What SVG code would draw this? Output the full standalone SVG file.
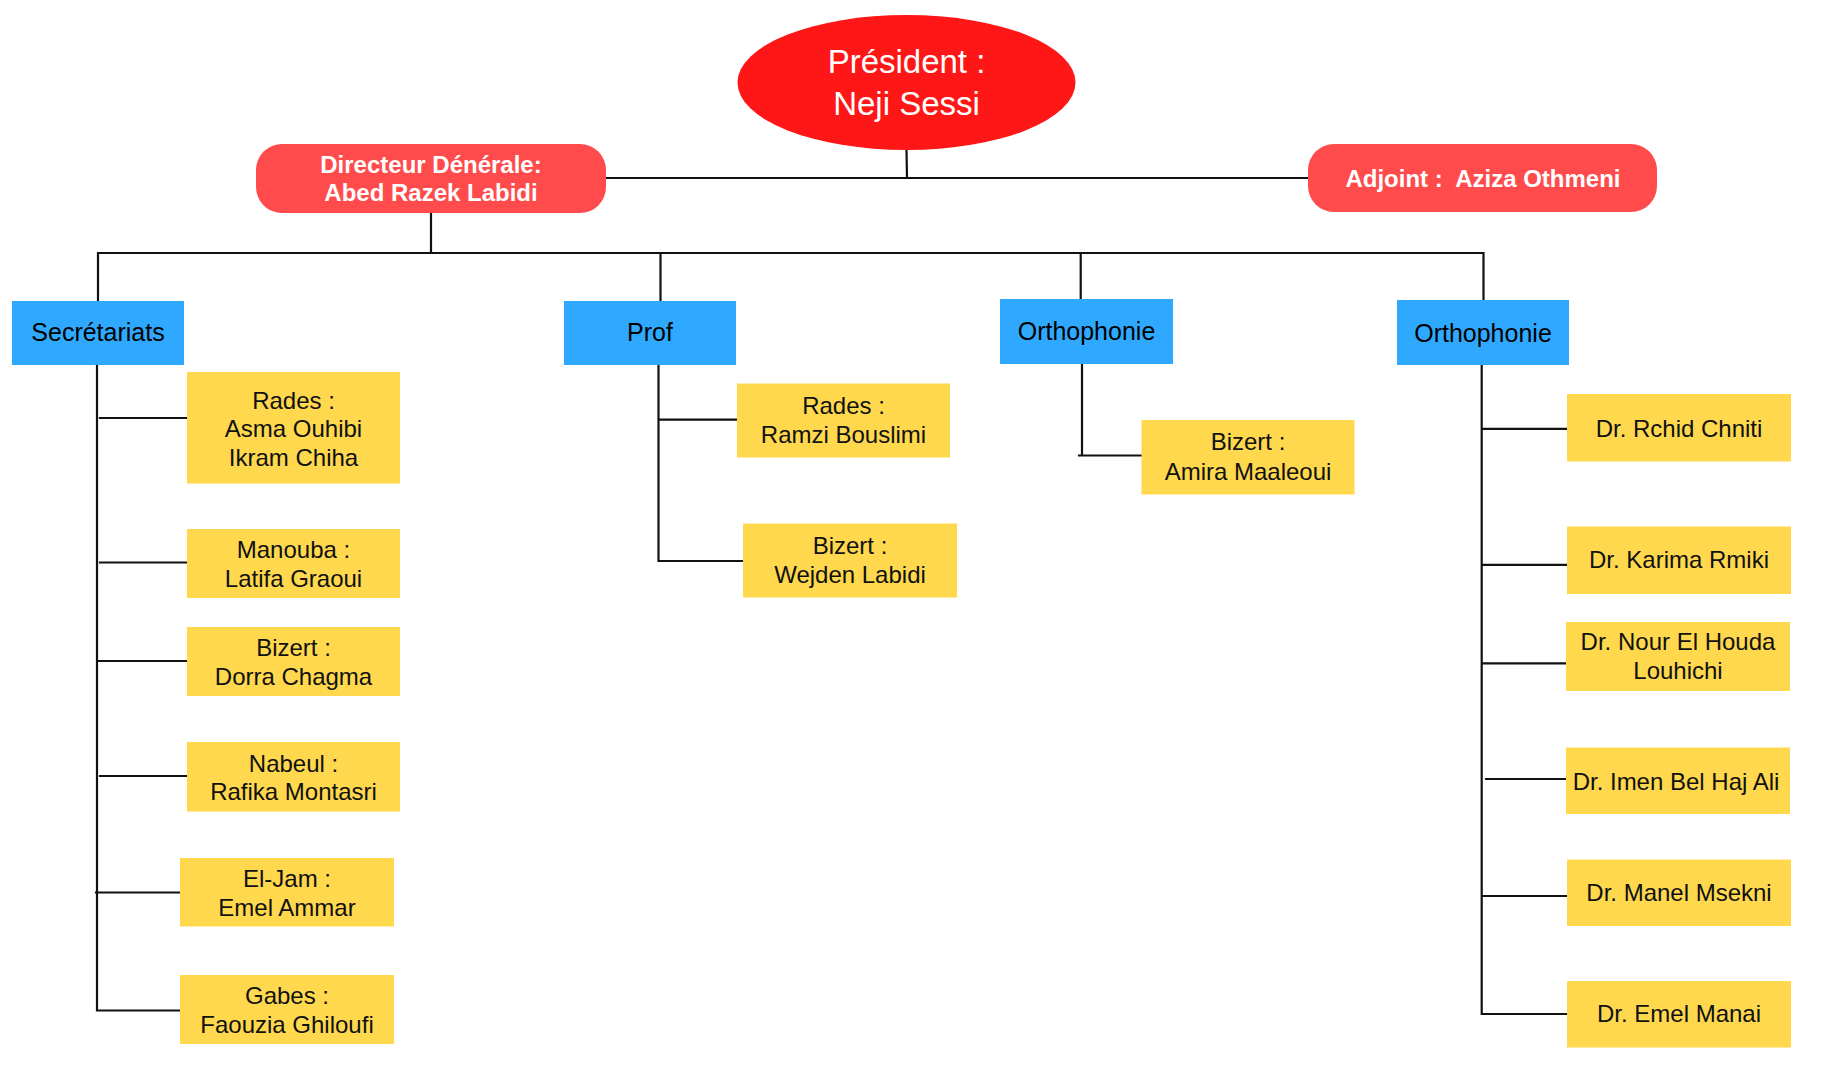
<svg xmlns="http://www.w3.org/2000/svg" width="1828" height="1068" viewBox="0 0 1828 1068">
<style>
.ln{stroke:#111;stroke-width:2.2;fill:none;stroke-linecap:square}
.red{fill:#FF4B4B}
.blue{fill:#2EA9FF}
.yel{fill:#FFD84D}
.t{font-family:"Liberation Sans",Arial,sans-serif;text-anchor:middle}
.tw{fill:#fff;font-size:33px}
.tb{fill:#fff;font-size:24px;font-weight:bold}
.tbl{fill:#000;font-size:25px}
.ty{fill:#111;font-size:24px}
</style>
<rect width="1828" height="1068" fill="#fff"/>
<g id="connectors">
<path class="ln" d="M906.5 150 L907 178 M606 178 L1308 178"/>
<path class="ln" d="M431 214 L431 253 M98 253 L1483 253 M98 253 L98 300 M660.5 253 L660.5 300 M1080.7 253 L1080.7 299 M1483.5 253 L1483.5 300"/>
<path class="ln" d="M97 365 L97 1010.5 L180 1010.5 M100 418 L186 418 M100 562.5 L186 562.5 M99 661 L186 661 M100 776 L186 776 M96 892.5 L180 892.5"/>
<path class="ln" d="M658.5 365 L658.5 561 L743 561 M658.5 419.7 L737 419.7"/>
<path class="ln" d="M1082 362 L1082 455.5 M1079 455.5 L1141.5 455.5"/>
<path class="ln" d="M1481.7 365 L1481.7 1014 L1566 1014 M1482 428.8 L1566 428.8 M1482 564.8 L1566 564.8 M1482 663.3 L1566 663.3 M1486 779 L1566 779 M1482 896 L1566 896"/>
</g>
<g id="president">
<ellipse cx="906.5" cy="82.5" rx="169" ry="67.5" fill="#FF1616"/>
<text class="t tw" x="906.5" y="73">Président :</text>
<text class="t tw" x="906.5" y="115">Neji Sessi</text>
</g>
<g id="directeur">
<rect class="red" x="256" y="144" width="350" height="69" rx="26"/>
<text class="t tb" x="431" y="173">Directeur Dénérale:</text>
<text class="t tb" x="431" y="201">Abed Razek Labidi</text>
</g>
<g id="adjoint">
<rect class="red" x="1308" y="144" width="349" height="68" rx="26"/>
<text class="t tb" x="1483" y="187" xml:space="preserve">Adjoint :  Aziza Othmeni</text>
</g>
<g id="secretariats">
<rect class="blue" x="12" y="301" width="172" height="64"/>
<text class="t tbl" x="98" y="341">Secrétariats</text>
</g>
<g id="prof">
<rect class="blue" x="564" y="301" width="172" height="64"/>
<text class="t tbl" x="650" y="341">Prof</text>
</g>
<g id="orthophonie1">
<rect class="blue" x="1000" y="299" width="173" height="65"/>
<text class="t tbl" x="1086.5" y="340">Orthophonie</text>
</g>
<g id="orthophonie2">
<rect class="blue" x="1397" y="300" width="172" height="65"/>
<text class="t tbl" x="1483" y="341.5">Orthophonie</text>
</g>
<g id="sec-rades">
<rect class="yel" x="187" y="372" width="213" height="111.5"/>
<text class="t ty" x="293.5" y="408.5">Rades :</text>
<text class="t ty" x="293.5" y="437">Asma Ouhibi</text>
<text class="t ty" x="293.5" y="466">Ikram Chiha</text>
</g>
<g id="sec-manouba">
<rect class="yel" x="187" y="529" width="213" height="69"/>
<text class="t ty" x="293.5" y="558">Manouba :</text>
<text class="t ty" x="293.5" y="586.5">Latifa Graoui</text>
</g>
<g id="sec-bizert">
<rect class="yel" x="187" y="627" width="213" height="69"/>
<text class="t ty" x="293.5" y="655.5">Bizert :</text>
<text class="t ty" x="293.5" y="684.5">Dorra Chagma</text>
</g>
<g id="sec-nabeul">
<rect class="yel" x="187" y="742" width="213" height="69.5"/>
<text class="t ty" x="293.5" y="771.5">Nabeul :</text>
<text class="t ty" x="293.5" y="800">Rafika Montasri</text>
</g>
<g id="sec-eljam">
<rect class="yel" x="180" y="858" width="214" height="68.5"/>
<text class="t ty" x="287" y="887">El-Jam :</text>
<text class="t ty" x="287" y="916">Emel Ammar</text>
</g>
<g id="sec-gabes">
<rect class="yel" x="180" y="975" width="214" height="69"/>
<text class="t ty" x="287" y="1003.5">Gabes :</text>
<text class="t ty" x="287" y="1032.5">Faouzia Ghiloufi</text>
</g>
<g id="prof-rades">
<rect class="yel" x="737" y="383.5" width="213" height="74"/>
<text class="t ty" x="843.5" y="413.5">Rades :</text>
<text class="t ty" x="843.5" y="442.5">Ramzi Bouslimi</text>
</g>
<g id="prof-bizert">
<rect class="yel" x="743" y="523.5" width="214" height="74"/>
<text class="t ty" x="850" y="553.5">Bizert :</text>
<text class="t ty" x="850" y="582.5">Wejden Labidi</text>
</g>
<g id="ortho-bizert">
<rect class="yel" x="1141.5" y="420" width="213" height="74.5"/>
<text class="t ty" x="1248" y="450">Bizert :</text>
<text class="t ty" x="1248" y="479.5">Amira Maaleoui</text>
</g>
<g id="dr-rchid">
<rect class="yel" x="1567" y="394" width="224" height="67.5"/>
<text class="t ty" x="1679" y="437">Dr. Rchid Chniti</text>
</g>
<g id="dr-karima">
<rect class="yel" x="1567" y="526.5" width="224" height="67.5"/>
<text class="t ty" x="1679" y="568">Dr. Karima Rmiki</text>
</g>
<g id="dr-nour">
<rect class="yel" x="1566" y="622" width="224" height="69"/>
<text class="t ty" x="1678" y="650">Dr. Nour El Houda</text>
<text class="t ty" x="1678" y="678.5">Louhichi</text>
</g>
<g id="dr-imen">
<rect class="yel" x="1566" y="747.5" width="224" height="66.5"/>
<text class="t ty" x="1676" y="789.5">Dr. Imen Bel Haj Ali</text>
</g>
<g id="dr-manel">
<rect class="yel" x="1567" y="859.5" width="224" height="66.5"/>
<text class="t ty" x="1679" y="901">Dr. Manel Msekni</text>
</g>
<g id="dr-emel">
<rect class="yel" x="1567" y="981" width="224" height="66.5"/>
<text class="t ty" x="1679" y="1022">Dr. Emel Manai</text>
</g>
</svg>
